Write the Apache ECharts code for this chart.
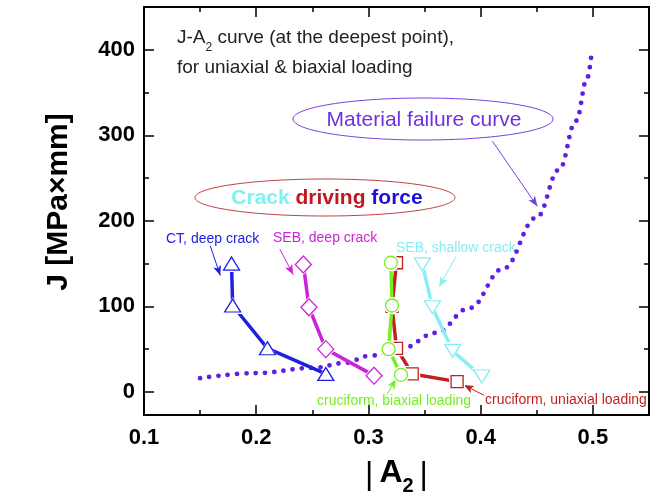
<!DOCTYPE html>
<html>
<head>
<meta charset="utf-8">
<script src="https://cdn.jsdelivr.net/npm/echarts@6/dist/echarts.min.js"></script>
<style>
html, body { margin: 0; padding: 0; background: #fff; }
#chart { width: 656px; height: 503px; }
</style>
</head>
<body>
<div id="chart"></div>
<script>
// values: |A2| on x, J [MPa x mm] on y
const ctX = [0.178, 0.179, 0.210, 0.262];
const ctJ = [150, 101, 51, 21];
const sebDeepX = [0.242, 0.247, 0.262, 0.305];
const sebDeepJ = [149, 99, 50, 19];
const sebShallowX = [0.348, 0.357, 0.375, 0.401];
const sebShallowJ = [149, 99, 48, 18];
const biaxX = [0.320, 0.321, 0.318, 0.329];
const biaxJ = [151, 101, 50, 20];
const uniaxX = [0.325, 0.321, 0.325, 0.339, 0.379];
const uniaxJ = [151, 100, 51, 21, 12];
const failX = [0.15, 0.20, 0.25, 0.28, 0.30, 0.33, 0.36, 0.39, 0.42, 0.45, 0.47, 0.485, 0.495, 0.499];
const failJ = [16, 22, 28, 34, 42, 51, 69, 98, 144, 204, 260, 317, 367, 398];

// annotation arrows [from, to] in data units
const ctArrow = [[0.159, 171], [0.168, 136]];
const sebDeepArrow = [[0.221, 167], [0.233, 137]];
const sebShallowArrow = [[0.378, 158], [0.363, 123]];
const biaxArrow = [[0.3165, -3], [0.3246, 15]];
const uniaxArrow = [[0.403, -4], [0.385, 8]];
const failArrow = [[0.4105, 293], [0.4505, 217]];

const xTicks = [0.1, 0.2, 0.3, 0.4, 0.5];
const yTicks = [0, 100, 200, 300, 400];

const FONT = '"Liberation Sans", Arial, sans-serif';

function pairs(xs, ys) {
  return xs.map((x, i) => [x, ys[i]]);
}

function arrow(a, color) {
  return {
    silent: true,
    symbol: ['none', 'arrow'],
    symbolSize: [6, 10],
    label: { show: false },
    lineStyle: { color: color, width: 1, type: 'solid' },
    data: [[{ coord: a[0] }, { coord: a[1] }]]
  };
}

// line, then a small white halo so the line stops short of the symbol, then hollow symbols
function crackSeries(name, xs, ys, color, symbol, size, rotate, arr, z) {
  const data = pairs(xs, ys);
  const halo = Array.isArray(size) ? size.map(s => s + 4) : size + 4;
  return [
    {
      name: name, type: 'line', data: data, symbol: 'none',
      lineStyle: { color: color, width: 3.5 }, z: z,
      markLine: arrow(arr, color)
    },
    {
      type: 'line', data: data, symbol: symbol, symbolSize: halo, symbolRotate: rotate,
      showAllSymbol: true, lineStyle: { opacity: 0 },
      itemStyle: { color: '#fff', borderWidth: 0 }, z: z + 1
    },
    {
      type: 'line', data: data, symbol: symbol, symbolSize: size, symbolRotate: rotate,
      showAllSymbol: true, lineStyle: { opacity: 0 },
      itemStyle: { color: '#fff', borderColor: color, borderWidth: 1.3 }, z: z + 2
    }
  ];
}

const chart = echarts.init(document.getElementById('chart'));

const frame = { show: true, onZero: false, lineStyle: { color: '#000', width: 2 } };

function xAx(pos, interval, len, labels) {
  return {
    type: 'value', position: pos, min: 0.1, max: 0.55, interval: interval,
    axisLine: frame,
    axisTick: { show: true, inside: true, length: len, lineStyle: { color: '#000', width: 1.5 } },
    splitLine: { show: false },
    axisLabel: labels ? {
      show: true, margin: 12, color: '#000', fontFamily: FONT, fontWeight: 'bold', fontSize: 22,
      formatter: v => xTicks.some(t => Math.abs(t - v) < 1e-6) ? v.toFixed(1) : ''
    } : { show: false }
  };
}

// y range starts at -27, so ticks come from splitNumber instead of interval
function yAx(pos, split, len, labels) {
  return {
    type: 'value', position: pos, min: -27, max: 450, splitNumber: split,
    axisLine: frame,
    axisTick: { show: true, inside: true, length: len, lineStyle: { color: '#000', width: 1.5 } },
    splitLine: { show: false },
    axisLabel: labels ? {
      show: true, margin: 9, color: '#000', fontFamily: FONT, fontWeight: 'bold', fontSize: 22,
      formatter: v => yTicks.includes(v) ? String(v) : ''
    } : { show: false }
  };
}

const xAxes = [xAx('bottom', 0.1, 10, true), xAx('bottom', 0.05, 5, false), xAx('top', 0.1, 10, false), xAx('top', 0.05, 5, false)];
xAxes[0].name = '{b||}{a|A}{s|2}{b||}';
xAxes[0].nameLocation = 'middle';
xAxes[0].nameGap = 42;
xAxes[0].nameTextStyle = {
  rich: {
    a: { fontFamily: FONT, fontWeight: 'bold', fontSize: 32, color: '#000', verticalAlign: 'bottom', padding: [0, 0, 7, 0] },
    s: { fontFamily: FONT, fontWeight: 'bold', fontSize: 20, color: '#000', verticalAlign: 'bottom' },
    b: { fontFamily: FONT, fontSize: 32, color: '#000', verticalAlign: 'bottom', padding: [0, 6, 5, 6] }
  }
};

const option = {
  animation: false,
  backgroundColor: '#fff',
  grid: { left: 144, right: 7, top: 7, bottom: 88, containLabel: false },
  xAxis: xAxes,
  yAxis: [yAx('left', 5, 10, true), yAx('left', 10, 5, false), yAx('right', 5, 10, false), yAx('right', 10, 5, false)],
  series: [
    {
      name: 'Material failure curve',
      type: 'line',
      data: pairs(failX, failJ),
      smooth: 0.4,
      smoothMonotone: 'x',
      symbol: 'none',
      lineStyle: { color: '#5f1de6', width: 4.8, type: [0, 9.3], cap: 'round' },
      z: 2,
      markLine: arrow(failArrow, '#7a3ee0')
    },
    ...crackSeries('CT, deep crack', ctX, ctJ, '#2020e0', 'triangle', [16, 13], 0, ctArrow, 10),
    ...crackSeries('SEB, deep crack', sebDeepX, sebDeepJ, '#cc22d8', 'diamond', [16, 17], 0, sebDeepArrow, 13),
    ...crackSeries('SEB, shallow crack', sebShallowX, sebShallowJ, '#86eef4', 'triangle', [16, 13], 180, sebShallowArrow, 16),
    ...crackSeries('cruciform, uniaxial loading', uniaxX, uniaxJ, '#c41e1e', 'rect', 12, 0, uniaxArrow, 19),
    ...crackSeries('cruciform, biaxial loading', biaxX, biaxJ, '#77ee22', 'circle', 13, 0, biaxArrow, 22)
  ],
  graphic: [
    {
      type: 'text', x: 59, y: 202, rotation: Math.PI / 2,
      style: { text: 'J [MPa×mm]', font: 'bold 30px ' + FONT, fill: '#000', align: 'center', verticalAlign: 'middle' }
    },
    {
      type: 'text', x: 177, y: 41,
      style: {
        text: '{t|J-A}{s|2}{t| curve (at the deepest point),}',
        verticalAlign: 'middle',
        rich: {
          t: { font: '19px ' + FONT, fill: '#222', verticalAlign: 'bottom', padding: [0, 0, 6, 0] },
          s: { font: '12px ' + FONT, fill: '#222', verticalAlign: 'bottom' }
        }
      }
    },
    {
      type: 'text', x: 177, y: 68,
      style: { text: 'for uniaxial & biaxial loading', font: '19px ' + FONT, fill: '#222', verticalAlign: 'middle' }
    },
    {
      type: 'ellipse', shape: { cx: 423, cy: 119, rx: 130, ry: 21 },
      style: { fill: 'none', stroke: '#7a3ee0', lineWidth: 1 }
    },
    {
      type: 'text', x: 424, y: 120,
      style: { text: 'Material failure curve', font: '21px ' + FONT, fill: '#7030e0', align: 'center', verticalAlign: 'middle' }
    },
    {
      type: 'ellipse', shape: { cx: 325, cy: 197.5, rx: 130, ry: 18.5 },
      style: { fill: 'none', stroke: '#c04040', lineWidth: 1 }
    },
    {
      type: 'text', x: 327, y: 198,
      style: {
        text: '{c|Crack }{d|driving }{f|force}',
        align: 'center', verticalAlign: 'middle',
        rich: {
          c: { font: 'bold 21px ' + FONT, fill: '#80f0f0' },
          d: { font: 'bold 21px ' + FONT, fill: '#c0181e' },
          f: { font: 'bold 21px ' + FONT, fill: '#1c10d8' }
        }
      }
    },
    { type: 'text', x: 166, y: 239, style: { text: 'CT, deep crack', font: '14px ' + FONT, fill: '#2020e0', verticalAlign: 'middle' } },
    { type: 'text', x: 273, y: 238, style: { text: 'SEB, deep crack', font: '14px ' + FONT, fill: '#cc22d8', verticalAlign: 'middle' } },
    { type: 'text', x: 396, y: 248, style: { text: 'SEB, shallow crack', font: '14px ' + FONT, fill: '#86eef4', verticalAlign: 'middle' } },
    { type: 'text', x: 317, y: 401, style: { text: 'cruciform, biaxial loading', font: '14px ' + FONT, fill: '#77ee22', verticalAlign: 'middle' } },
    { type: 'text', x: 485, y: 400, style: { text: 'cruciform, uniaxial loading', font: '14px ' + FONT, fill: '#c41e1e', verticalAlign: 'middle' } }
  ]
};

chart.setOption(option);
</script>
</body>
</html>
